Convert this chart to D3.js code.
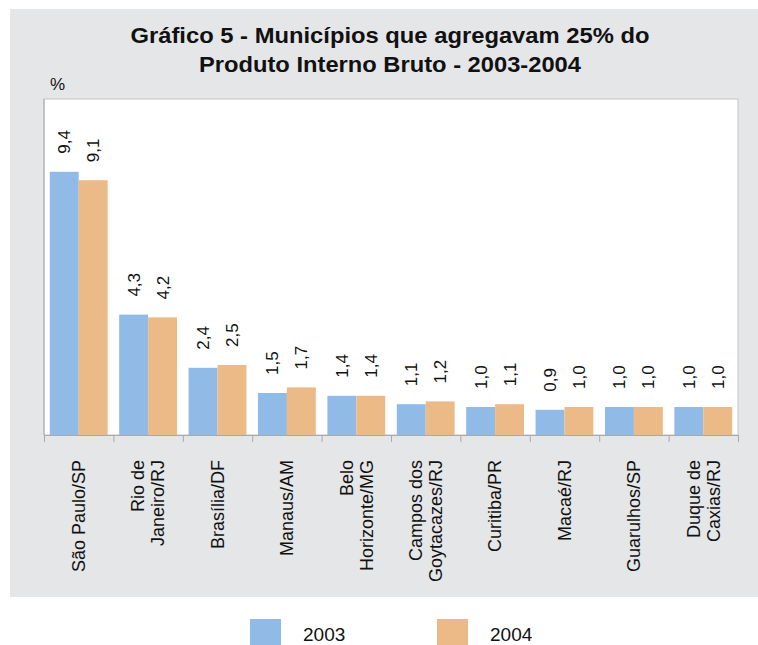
<!DOCTYPE html>
<html>
<head>
<meta charset="utf-8">
<script src="https://cdn.jsdelivr.net/npm/d3@7"></script>
<style>
  body { margin: 0; background: #fff; }
  svg { display: block; }
  .lbl { font-family: "Liberation Sans", Arial, sans-serif; fill: #111; }
</style>
</head>
<body>
<script>
// data
var cities = ['São Paulo/SP', 'Rio de\nJaneiro/RJ', 'Brasília/DF', 'Manaus/AM', 'Belo\nHorizonte/MG',
              'Campos dos\nGoytacazes/RJ', 'Curitiba/PR', 'Macaé/RJ', 'Guarulhos/SP', 'Duque de\nCaxias/RJ']
var years = ['2003', '2004']
var v2003 = [9.4, 4.3, 2.4, 1.5, 1.4, 1.1, 1.0, 0.9, 1.0, 1.0]
var v2004 = [9.1, 4.2, 2.5, 1.7, 1.4, 1.2, 1.1, 1.0, 1.0, 1.0]
var colors = ['#8fbbe6', '#ebba87']

var options = {
  width: 758,
  height: 645,
  left: 44,
  right: 738,
  top: 99,
  bottom: 435
}

var svg = d3.select('body').append('svg')
  .attr('width', options.width)
  .attr('height', options.height)

// gray panel
svg.append('rect')
  .attr('x', 10).attr('y', 9)
  .attr('width', options.width - 10).attr('height', 597 - 9)
  .attr('fill', '#e5e6e8')

// plot area
svg.append('rect')
  .attr('x', options.left).attr('y', options.top)
  .attr('width', options.right - options.left).attr('height', options.bottom - options.top)
  .attr('fill', '#fff')
  .attr('stroke', '#c4c4c4')
  .attr('stroke-width', 1)

// title - textLength keeps the width of the original font
var title = svg.append('text')
  .attr('text-anchor', 'middle')
  .style('font-family', '"Liberation Sans", Arial, sans-serif')
  .style('font-weight', 'bold')
  .style('font-size', '21.5px')
  .style('fill', '#111')
title.append('tspan').attr('x', 390).attr('y', 43)
  .attr('textLength', 519).attr('lengthAdjust', 'spacingAndGlyphs')
  .text('Gráfico 5 - Municípios que agregavam 25% do')
title.append('tspan').attr('x', 390).attr('y', 72)
  .attr('textLength', 382).attr('lengthAdjust', 'spacingAndGlyphs')
  .text('Produto Interno Bruto - 2003-2004')

svg.append('text').attr('class', 'lbl')
  .attr('x', 50).attr('y', 90)
  .style('font-size', '17px')
  .text('%')

var x0 = d3.scaleBand().domain(cities).range([options.left, options.right]).padding(0)
var x1 = d3.scaleBand().domain(years).range([0, x0.bandwidth()]).paddingInner(0).paddingOuter(0.2)
var y = d3.scaleLinear().domain([0, 12]).range([options.bottom, options.top])

var rows = cities.map(function(c, i) {
  return { city: c, values: [ { year: '2003', v: v2003[i] }, { year: '2004', v: v2004[i] } ] }
})

var groups = svg.selectAll('g.city').data(rows).enter().append('g')
  .attr('class', 'city')
  .attr('transform', function(d) { return 'translate(' + x0(d.city) + ',0)' })

groups.selectAll('rect').data(function(d) { return d.values }).enter().append('rect')
  .attr('x', function(d) { return x1(d.year) })
  .attr('y', function(d) { return y(d.v) })
  .attr('width', x1.bandwidth())
  .attr('height', function(d) { return y(0) - y(d.v) })
  .attr('fill', function(d, i) { return colors[i] })

// value labels, rotated
groups.selectAll('text.val').data(function(d) { return d.values }).enter().append('text')
  .attr('class', 'lbl val')
  .attr('transform', function(d) {
    return 'translate(' + (x1(d.year) + x1.bandwidth() / 2) + ',' + (y(d.v) - 18) + ') rotate(-90)'
  })
  .attr('dy', '0.35em')
  .style('font-size', '17px')
  .text(function(d) { return d3.format('.1f')(d.v).replace('.', ',') })

// axis: baseline with ticks at category edges
var axis = d3.axisBottom(d3.scaleLinear().domain([0, cities.length]).range([options.left, options.right]))
  .ticks(cities.length)
  .tickSize(7)
  .tickFormat('')
var ax = svg.append('g').attr('transform', 'translate(0,' + options.bottom + ')').call(axis)
ax.selectAll('path, line').attr('stroke', '#a9a9a9')

svg.append('line')
  .attr('x1', options.left).attr('x2', options.left)
  .attr('y1', options.top).attr('y2', options.bottom)
  .attr('stroke', '#a9a9a9')

// category labels
var catG = svg.selectAll('g.cat').data(cities).enter().append('g')
  .attr('class', 'cat')
  .attr('transform', function(d) { return 'translate(' + (x0(d) + x0.bandwidth() / 2) + ',460) rotate(-90)' })
catG.each(function(d) {
  var lines = d.split('\n')
  var t = d3.select(this).append('text').attr('class', 'lbl')
    .attr('text-anchor', 'end')
    .style('font-size', '18px')
  lines.forEach(function(l, i) {
    t.append('tspan')
      .attr('x', 0)
      .attr('y', (i - (lines.length - 1) / 2) * 20)
      .attr('dy', '0.35em')
      .text(l)
  })
})

// legend
var legend = svg.selectAll('g.leg').data(years).enter().append('g')
  .attr('class', 'leg')
  .attr('transform', function(d, i) { return 'translate(' + (250 + i * 187) + ',619)' })
legend.append('rect')
  .attr('width', 31).attr('height', 26)
  .attr('fill', function(d, i) { return colors[i] })
legend.append('text').attr('class', 'lbl')
  .attr('x', 53).attr('y', 22)
  .style('font-size', '19px')
  .text(function(d) { return d })
</script>
</body>
</html>
